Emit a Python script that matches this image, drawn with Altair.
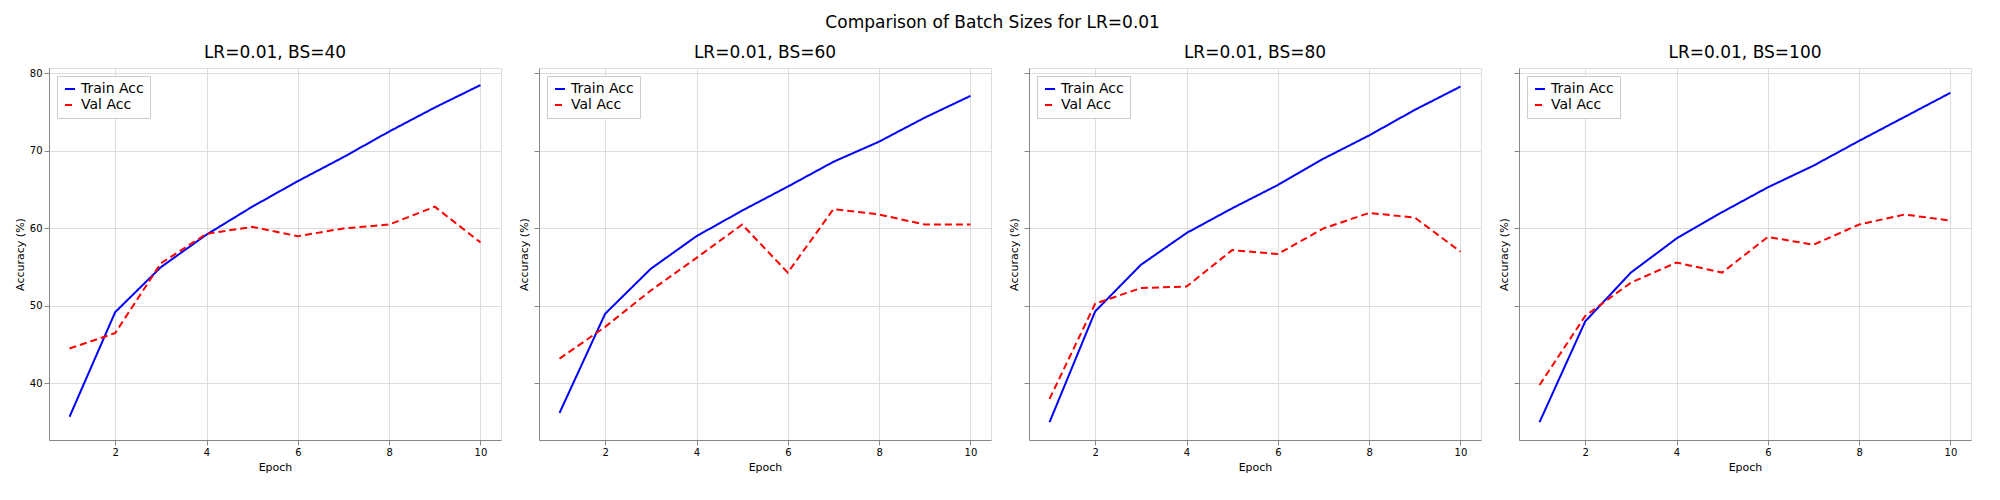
import altair as alt
import pandas as pd

epochs = list(range(1, 11))
titles = ["LR=0.01, BS=40", "LR=0.01, BS=60", "LR=0.01, BS=80", "LR=0.01, BS=100"]
train = [
    [35.7, 49.2, 55.0, 59.2, 62.8, 66.1, 69.2, 72.5, 75.6, 78.5],
    [36.2, 49.0, 54.8, 59.0, 62.3, 65.4, 68.6, 71.2, 74.3, 77.1],
    [35.0, 49.3, 55.3, 59.4, 62.6, 65.6, 69.0, 72.0, 75.3, 78.3],
    [35.0, 48.0, 54.3, 58.7, 62.1, 65.3, 68.1, 71.3, 74.4, 77.5],
]
val = [
    [44.5, 46.5, 55.5, 59.3, 60.2, 59.0, 60.0, 60.5, 62.8, 58.2],
    [43.2, 47.3, 52.0, 56.2, 60.5, 54.3, 62.5, 61.8, 60.5, 60.5],
    [38.0, 50.3, 52.3, 52.5, 57.2, 56.7, 60.0, 62.0, 61.4, 57.0],
    [39.8, 48.7, 53.0, 55.6, 54.3, 58.9, 57.9, 60.5, 61.8, 61.0],
]

panels = []
for i in range(4):
    rows = [{"Epoch": e, "Acc": t, "Series": "Train Acc"} for e, t in zip(epochs, train[i])]
    rows += [{"Epoch": e, "Acc": v, "Series": "Val Acc"} for e, v in zip(epochs, val[i])]
    df = pd.DataFrame(rows)
    ch = alt.Chart(df, title=alt.Title(titles[i], fontSize=17, fontWeight="normal", offset=6)).mark_line(strokeWidth=2).encode(
        x=alt.X("Epoch:Q", scale=alt.Scale(domain=[0.55, 10.45], nice=False),
                axis=alt.Axis(values=[2, 4, 6, 8, 10], title="Epoch", grid=True, titleFontWeight="normal")),
        y=alt.Y("Acc:Q", scale=alt.Scale(domain=[32.7, 80.7], nice=False),
                axis=alt.Axis(values=[40, 50, 60, 70, 80], title="Accuracy (%)", grid=True,
                              labels=(i == 0), titleFontWeight="normal")),
        color=alt.Color("Series:N", scale=alt.Scale(domain=["Train Acc", "Val Acc"], range=["blue", "red"]),
                        legend=alt.Legend(title=None, orient="top-left", strokeColor="#ccc", fillColor="white",
                                          padding=6, symbolStrokeWidth=2, labelFontSize=14, offset=8)),
        strokeDash=alt.StrokeDash("Series:N", scale=alt.Scale(domain=["Train Acc", "Val Acc"], range=[[1, 0], [7, 4]]),
                                  legend=alt.Legend(title=None, orient="top-left")),
    ).properties(width=452, height=372)
    panels.append(ch)

chart = alt.hconcat(*panels, spacing=16).resolve_legend(color="independent", strokeDash="independent").properties(
    title=alt.Title("Comparison of Batch Sizes for LR=0.01", fontSize=17, fontWeight="normal", anchor="middle", offset=12)
).configure_view(stroke="black").configure_axis(
    gridColor="#b0b0b0", domainColor="black", tickColor="black", labelColor="black", titleColor="black",
    labelFontSize=13, titleFontSize=14
).configure(font="DejaVu Sans")

chart.save("out.html", embed_options={"renderer": "svg", "actions": False})
